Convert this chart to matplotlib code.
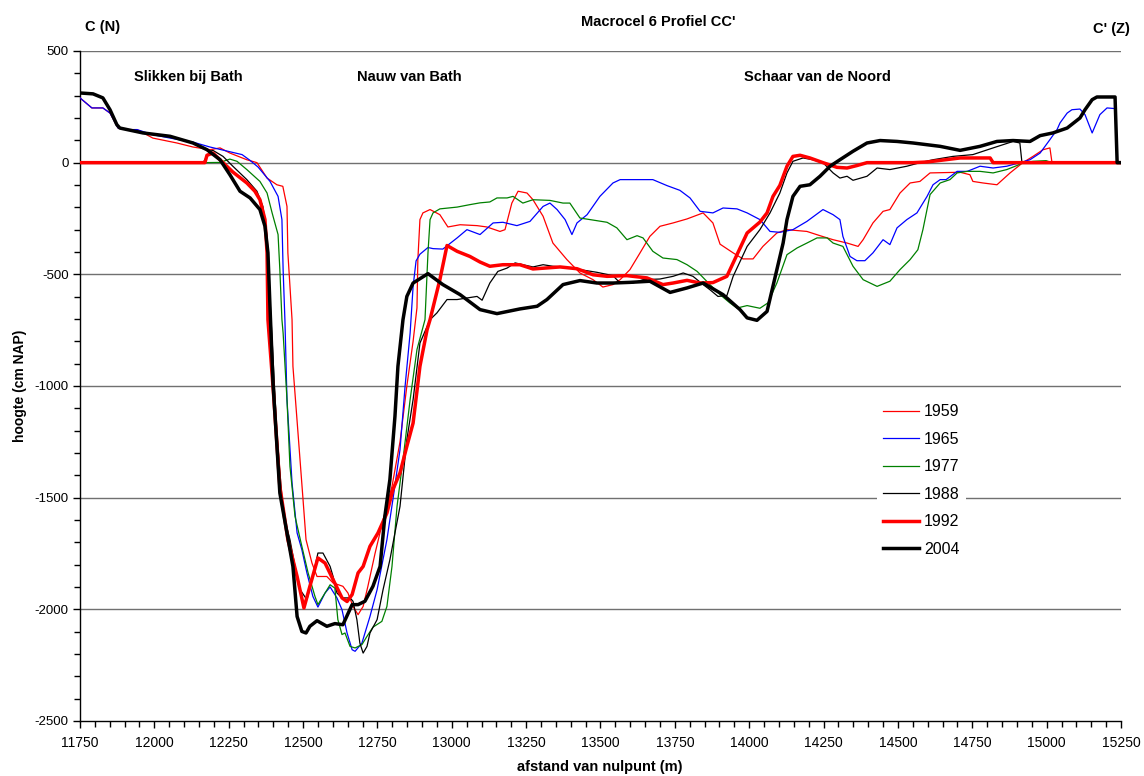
import matplotlib
matplotlib.use('Agg')
import matplotlib.pyplot as plt
from matplotlib.ticker import MultipleLocator, FixedLocator

plt.rcParams['font.family'] = ['Liberation Sans', 'DejaVu Sans']

# ---------------- data (afstand in m, hoogte in cm NAP) ----------------
x1959 = [11750,11790,11827,11851,11878,11908,11942,11995,12076,12130,12187,12221,12254,12311,12345,12379,12412,12432,12446,12449,12463,12466,12483,12500,12510,12530,12547,12580,12601,12634,12651,12668,12685,12702,12718,12742,12769,12799,12826,12849,12870,12883,12886,12893,12903,12927,12960,12987,13028,13085,13118,13162,13179,13202,13223,13253,13273,13307,13340,13387,13431,13475,13508,13542,13566,13599,13633,13666,13700,13744,13791,13845,13878,13902,13946,13979,14013,14046,14093,14127,14194,14238,14282,14329,14366,14383,14416,14450,14473,14507,14541,14574,14608,14709,14742,14752,14786,14833,14877,14920,14954,14988,15011,15018]
y1959 = [290,245,245,222,155,148,148,110,88,70,58,66,43,13,0,-69,-99,-106,-196,-404,-703,-912,-1210,-1509,-1688,-1793,-1853,-1853,-1882,-1897,-1927,-1987,-2024,-1987,-1897,-1750,-1600,-1450,-1250,-1000,-800,-650,-434,-255,-225,-210,-233,-288,-278,-282,-288,-308,-300,-181,-128,-136,-166,-240,-360,-434,-494,-524,-557,-546,-524,-479,-404,-330,-285,-270,-252,-225,-270,-365,-404,-431,-431,-375,-315,-300,-308,-327,-345,-360,-375,-345,-270,-218,-210,-136,-91,-84,-46,-43,-54,-84,-91,-99,-46,0,28,58,66,0]

x1965 = [11750,11790,11827,11851,11878,11908,11942,11995,12053,12130,12187,12244,12295,12322,12349,12389,12416,12429,12433,12439,12446,12463,12480,12496,12513,12533,12550,12574,12591,12614,12631,12648,12665,12675,12698,12725,12749,12782,12802,12826,12843,12860,12870,12880,12893,12920,12937,12970,13018,13051,13095,13139,13172,13219,13263,13307,13330,13354,13381,13404,13421,13455,13498,13542,13566,13676,13724,13767,13801,13835,13878,13912,13959,13993,14036,14070,14103,14147,14194,14248,14282,14305,14315,14339,14362,14389,14416,14450,14473,14497,14530,14564,14598,14618,14642,14662,14699,14733,14776,14820,14866,14910,14944,14978,15011,15035,15045,15069,15085,15112,15129,15153,15179,15203,15230]
y1965 = [290,245,245,222,155,148,148,125,110,92,70,52,36,10,-20,-84,-151,-255,-479,-703,-1061,-1434,-1658,-1733,-1837,-1942,-1990,-1927,-1900,-1949,-2002,-2106,-2181,-2188,-2151,-2032,-1912,-1688,-1509,-1285,-1002,-763,-554,-440,-410,-380,-385,-387,-337,-300,-322,-270,-267,-282,-263,-196,-181,-210,-255,-322,-270,-233,-151,-91,-76,-76,-103,-124,-158,-218,-225,-203,-207,-225,-255,-308,-312,-300,-263,-210,-233,-255,-330,-420,-439,-439,-404,-345,-367,-292,-255,-225,-151,-99,-76,-76,-39,-39,-16,-24,-16,0,13,43,103,148,178,222,237,240,215,133,215,245,242]

x1977 = [11750,12164,12221,12254,12278,12311,12355,12379,12396,12416,12422,12429,12433,12446,12456,12473,12496,12517,12540,12550,12567,12591,12607,12617,12631,12641,12658,12675,12698,12715,12735,12765,12782,12799,12816,12836,12860,12883,12910,12920,12927,12937,12960,13018,13061,13095,13128,13152,13186,13206,13239,13273,13330,13374,13397,13431,13465,13522,13555,13589,13623,13643,13676,13710,13757,13791,13825,13868,13902,13935,13959,13993,14036,14063,14093,14127,14161,14194,14228,14262,14282,14315,14349,14383,14430,14473,14507,14541,14567,14584,14608,14642,14675,14699,14733,14776,14820,14866,14900,14920,14954,14998,15018]
y1977 = [0,0,1,16,6,-31,-84,-136,-225,-322,-479,-703,-763,-1061,-1360,-1584,-1718,-1837,-1942,-1979,-1942,-1890,-1905,-2046,-2113,-2106,-2166,-2173,-2158,-2121,-2080,-2054,-1987,-1808,-1539,-1330,-1061,-837,-703,-404,-255,-225,-207,-199,-188,-180,-176,-158,-158,-151,-181,-166,-169,-181,-181,-248,-255,-267,-292,-345,-327,-337,-397,-427,-434,-457,-487,-546,-591,-628,-651,-640,-652,-628,-539,-412,-382,-360,-337,-337,-360,-375,-464,-524,-554,-531,-479,-434,-390,-300,-143,-91,-76,-46,-39,-39,-46,-31,-13,0,6,9,0]

x1988 = [11750,12164,12187,12197,12231,12264,12311,12345,12365,12379,12389,12412,12433,12456,12473,12490,12513,12533,12550,12567,12591,12601,12614,12631,12658,12668,12681,12691,12702,12715,12725,12749,12769,12792,12809,12826,12849,12870,12893,12927,12950,12984,13018,13051,13085,13102,13128,13155,13186,13213,13239,13273,13307,13340,13374,13431,13488,13542,13566,13609,13643,13700,13744,13778,13811,13845,13868,13895,13925,13946,13993,14036,14070,14103,14127,14147,14181,14214,14248,14282,14305,14329,14349,14396,14430,14473,14530,14574,14618,14685,14752,14820,14887,14910,14917,15250]
y1988 = [0,0,51,55,28,-16,-76,-128,-196,-330,-613,-1210,-1569,-1688,-1808,-1912,-1957,-1853,-1748,-1748,-1808,-1853,-1927,-1949,-1949,-1964,-2046,-2151,-2196,-2166,-2106,-2046,-1912,-1778,-1658,-1539,-1240,-1061,-808,-703,-673,-613,-613,-606,-599,-616,-539,-487,-472,-449,-457,-467,-457,-464,-467,-479,-491,-506,-539,-539,-524,-521,-509,-494,-509,-546,-569,-599,-595,-509,-375,-300,-225,-136,-46,6,21,13,0,-46,-69,-61,-79,-61,-24,-31,-16,0,13,28,36,66,95,88,0,0]

x1992 = [11750,12170,12177,12197,12231,12264,12311,12338,12355,12372,12379,12382,12399,12422,12449,12480,12503,12523,12550,12574,12601,12631,12648,12665,12685,12702,12725,12752,12782,12802,12826,12849,12870,12893,12917,12927,12960,12984,13018,13061,13095,13128,13172,13229,13273,13364,13421,13475,13522,13589,13656,13710,13744,13791,13835,13878,13925,13946,13993,14036,14060,14080,14103,14127,14147,14171,14204,14248,14295,14329,14362,14396,14551,14598,14709,14810,14820,15250]
y1992 = [0,0,33,43,0,-42,-91,-128,-166,-255,-404,-703,-1002,-1450,-1688,-1853,-1994,-1897,-1770,-1793,-1867,-1949,-1965,-1934,-1837,-1808,-1718,-1658,-1569,-1464,-1389,-1270,-1166,-912,-748,-703,-524,-371,-397,-420,-445,-464,-457,-457,-476,-467,-475,-502,-509,-506,-516,-546,-539,-527,-539,-537,-509,-449,-315,-266,-225,-151,-102,-16,28,33,21,0,-21,-24,-13,0,0,3,21,21,0,0]

x2004 = [11750,11794,11827,11851,11874,11884,11962,12053,12130,12177,12221,12254,12288,12322,12355,12372,12382,12389,12399,12422,12446,12466,12480,12496,12510,12523,12547,12580,12607,12634,12665,12685,12708,12735,12759,12775,12792,12809,12819,12836,12849,12870,12920,12970,13028,13095,13152,13229,13287,13320,13374,13431,13488,13542,13599,13666,13734,13791,13845,13912,13969,13993,14026,14060,14093,14114,14127,14147,14171,14204,14238,14272,14305,14349,14396,14440,14497,14551,14642,14709,14776,14833,14887,14944,14978,15021,15069,15112,15129,15153,15169,15230,15237,15250]
y2004 = [312,308,290,237,170,155,133,118,88,58,13,-54,-128,-158,-210,-285,-404,-650,-986,-1479,-1658,-1808,-2032,-2099,-2106,-2076,-2051,-2076,-2064,-2069,-1979,-1979,-1964,-1897,-1808,-1584,-1419,-1136,-912,-703,-599,-539,-497,-546,-591,-658,-676,-655,-643,-613,-546,-528,-539,-539,-536,-531,-581,-561,-539,-591,-658,-695,-706,-666,-479,-360,-255,-151,-106,-99,-61,-16,13,51,88,99,95,88,73,55,73,95,99,95,121,133,155,200,237,282,294,294,0,0]

years = ['1959', '1965', '1977', '1988', '1992', '2004']
xticks = [11750, 12000, 12250, 12500, 12750, 13000, 13250, 13500, 13750, 14000, 14250, 14500, 14750, 15000, 15250]
yticks = [-2500, -2000, -1500, -1000, -500, 0, 500]

series = [(x1959, y1959, '#FF0000', 0.9),
          (x1965, y1965, '#0000FF', 0.9),
          (x1977, y1977, '#008000', 0.9),
          (x1988, y1988, '#000000', 0.9),
          (x1992, y1992, '#FF0000', 2.5),
          (x2004, y2004, '#000000', 2.5)]

# ---------------- figure ----------------
fig = plt.figure(figsize=(11.44, 7.76), dpi=100)
ax = fig.add_axes([0.0699, 0.0709, 0.9100, 0.8634])

for (xs, ys, c, lw), lab in zip(series, years):
    n = min(len(xs), len(ys))
    ax.plot(xs[:n], ys[:n], color=c, lw=lw, label=lab, solid_joinstyle='round', zorder=3)

ax.set_xlim(11750, 15250)
ax.set_ylim(-2500, 500)

for v in yticks[1:]:
    ax.axhline(v, color='#707070', lw=1.0, zorder=1)

for s in ['top', 'right']:
    ax.spines[s].set_visible(False)
for s in ['left', 'bottom']:
    ax.spines[s].set_color('black')
    ax.spines[s].set_linewidth(1.0)

ax.xaxis.set_major_locator(FixedLocator(xticks))
ax.xaxis.set_minor_locator(MultipleLocator(50))
ax.yaxis.set_major_locator(FixedLocator(yticks))
ax.yaxis.set_minor_locator(MultipleLocator(100))
ax.tick_params(axis='both', which='major', direction='out', length=5, width=1, color='black')
ax.tick_params(axis='both', which='minor', direction='out', length=4, width=1, color='black')
ax.tick_params(axis='x', which='major', labelsize=10, pad=6)
ax.tick_params(axis='y', which='major', labelsize=9.5, pad=3)
ax.set_xticklabels([str(v) for v in xticks])
ax.set_yticklabels([str(v) for v in yticks])

# region labels
ax.text(12113, 384, 'Slikken bij Bath', ha='center', va='center', fontsize=10.5, fontweight='bold')
ax.text(12856, 384, 'Nauw van Bath', ha='center', va='center', fontsize=10.5, fontweight='bold')
ax.text(14231, 384, 'Schaar van de Noord', ha='center', va='center', fontsize=10.5, fontweight='bold')

# titles
fig.text(103/1144, 1 - 27/776, 'C (N)', ha='center', va='center', fontsize=10.5, fontweight='bold')
fig.text(658/1144, 1 - 22/776, "Macrocel 6 Profiel CC'", ha='center', va='center', fontsize=10.5, fontweight='bold')
fig.text(1111/1144, 1 - 29/776, "C' (Z)", ha='center', va='center', fontsize=10.5, fontweight='bold')

fig.text(20/1144, 1 - 386/776, 'hoogte (cm NAP)', ha='center', va='center', rotation=90,
         fontsize=10, fontweight='bold')
fig.text(600/1144, 1 - 767/776, 'afstand van nulpunt (m)', ha='center', va='center',
         fontsize=10.5, fontweight='bold')

leg = ax.legend(loc='upper left', bbox_to_anchor=((877 - 80) / 1041, 1 - (398 - 51) / 670),
                frameon=True, fancybox=False, facecolor='white', edgecolor='none', framealpha=1,
                fontsize=11.5, handlelength=2.25, handletextpad=0.3, labelspacing=0.78,
                borderpad=0.4, borderaxespad=0)
leg.set_zorder(5)

fig.savefig('out.png', dpi=100, facecolor='white')
